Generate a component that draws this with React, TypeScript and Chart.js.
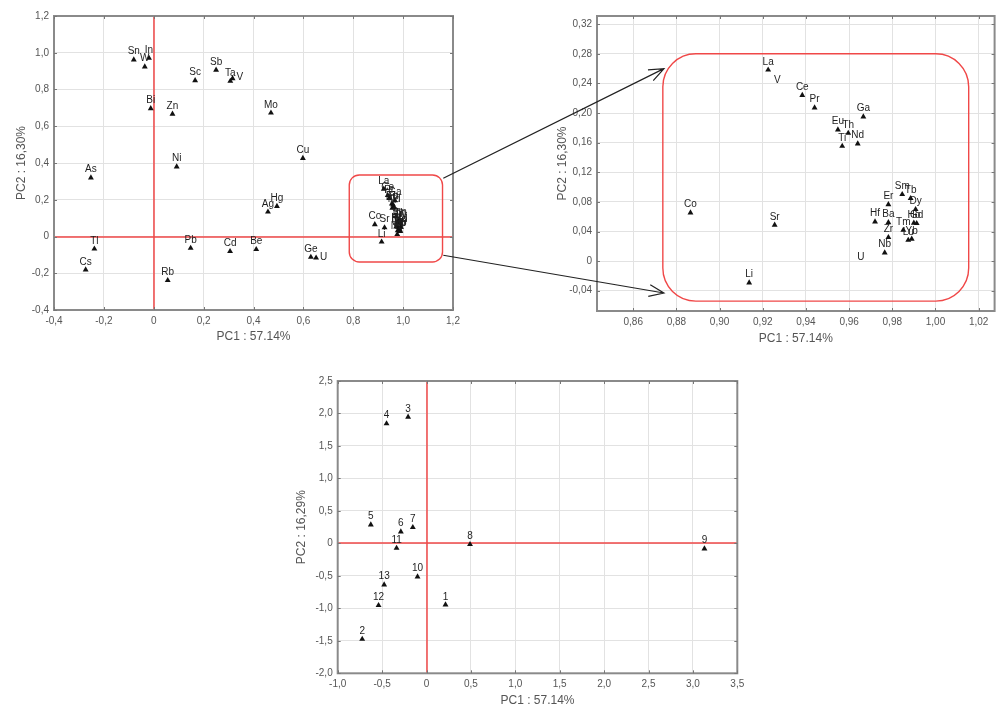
import React, { useEffect, useRef } from "react";
import { Chart, registerables } from "chart.js";
Chart.register(...registerables);

const FONT = "'Liberation Sans', Arial, sans-serif";

// ---------- Top-left: variable loadings (full view) ----------
const leftLabels = ["Sn", "W", "In", "Bi", "Zn", "Sc", "Sb", "Ta", "V", "Mo", "Ni", "As", "Cu", "Hg", "Ag", "Tl", "Cs", "Pb", "Cd", "Be", "Rb", "Ge", "U"];
const leftX = [-0.080, -0.036, -0.019, -0.012, 0.075, 0.166, 0.250, 0.307, 0.316, 0.470, 0.092, -0.252, 0.598, 0.494, 0.458, -0.238, -0.273, 0.148, 0.306, 0.411, 0.056, 0.630, 0.651];
const leftY = [0.962, 0.924, 0.971, 0.697, 0.667, 0.849, 0.906, 0.846, 0.860, 0.673, 0.380, 0.320, 0.426, 0.165, 0.134, -0.067, -0.181, -0.063, -0.081, -0.070, -0.239, -0.112, -0.116];
// labels drawn to the right of their marker instead of above it
const leftRightLabels = ["V", "U"];

// ---------- Top-right: zoomed cluster ----------
const zoomLabels = ["La", "Ce", "Pr", "Ga", "Eu", "Th", "Ti", "Nd", "Co", "Sr", "Li", "Sm", "Tb", "Dy", "Er", "Hf", "Ba", "Zr", "Nb", "Tm", "Yb", "Lu", "Gd", "Ho"];
const zoomX = [0.9225, 0.9383, 0.9440, 0.9666, 0.9548, 0.9596, 0.9568, 0.9640, 0.8865, 0.9255, 0.9137, 0.9846, 0.9885, 0.9908, 0.9782, 0.9720, 0.9782, 0.9782, 0.9765, 0.9851, 0.9890, 0.9874, 0.9913, 0.9900];
const zoomY = [0.2584, 0.2242, 0.2073, 0.1951, 0.1776, 0.1730, 0.1555, 0.1586, 0.0654, 0.0488, -0.0292, 0.0903, 0.0849, 0.0700, 0.0765, 0.0532, 0.0522, 0.0322, 0.0114, 0.0420, 0.0299, 0.0285, 0.0511, 0.0515];
// labels shown without a marker in the zoomed view
const zoomTextLabels = ["V", "U"];
const zoomTextX = [0.9268, 0.9654];
const zoomTextY = [0.2336, -0.0057];

// ---------- Bottom: object scores ----------
const objLabels = ["1", "2", "3", "4", "5", "6", "7", "8", "9", "10", "11", "12", "13"];
const objX = [0.214, -0.724, -0.207, -0.450, -0.627, -0.289, -0.154, 0.490, 3.130, -0.101, -0.337, -0.540, -0.477];
const objY = [-0.945, -1.474, 1.946, 1.844, 0.288, 0.180, 0.246, -0.015, -0.082, -0.513, -0.072, -0.955, -0.636];

// ---------- Ticks ----------
const leftTicks = [-0.4, -0.2, 0, 0.2, 0.4, 0.6, 0.8, 1.0, 1.2];
const leftTickLabels = ["-0,4", "-0,2", "0", "0,2", "0,4", "0,6", "0,8", "1,0", "1,2"];
const zoomXTicks = [0.86, 0.88, 0.90, 0.92, 0.94, 0.96, 0.98, 1.00, 1.02];
const zoomXTickLabels = ["0,86", "0,88", "0,90", "0,92", "0,94", "0,96", "0,98", "1,00", "1,02"];
const zoomYTicks = [-0.04, 0, 0.04, 0.08, 0.12, 0.16, 0.20, 0.24, 0.28, 0.32];
const zoomYTickLabels = ["-0,04", "0", "0,04", "0,08", "0,12", "0,16", "0,20", "0,24", "0,28", "0,32"];
const objXTicks = [-1, -0.5, 0, 0.5, 1, 1.5, 2, 2.5, 3, 3.5];
const objXTickLabels = ["-1,0", "-0,5", "0", "0,5", "1,0", "1,5", "2,0", "2,5", "3,0", "3,5"];
const objYTicks = [-2, -1.5, -1, -0.5, 0, 0.5, 1, 1.5, 2, 2.5];
const objYTickLabels = ["-2,0", "-1,5", "-1,0", "-0,5", "0", "0,5", "1,0", "1,5", "2,0", "2,5"];

// ---------- Annotation geometry (data units) ----------
const leftBox = { x1: 0.784, x2: 1.158, y1: 0.335, y2: -0.139, r: 10 };
const zoomBox = { x1: 0.8737, x2: 1.0154, y1: 0.2802, y2: -0.054, r: 33 };
const arrowFrom = [{ x: 1.161, y: 0.317 }, { x: 1.161, y: -0.102 }];
const arrowTo = [{ x: 0.8742, y: 0.2601 }, { x: 0.8742, y: -0.0431 }];

const RED = "#f04848";

function axis(pos: "left" | "bottom", min: number, max: number, ticks: number[], labels: string[], title: string, size: number, titlePad: number, tickPad: number) {
  return {
    type: "linear",
    position: pos,
    min,
    max,
    afterBuildTicks: (s: any) => {
      s.ticks = ticks.map((v) => ({ value: v }));
    },
    afterFit: (s: any) => {
      if (pos === "left") s.width = size;
      else s.height = size;
      s.paddingLeft = 0;
      s.paddingRight = 0;
      s.paddingTop = 0;
      s.paddingBottom = 0;
    },
    ticks: {
      autoSkip: false,
      maxRotation: 0,
      padding: tickPad,
      color: "#555",
      font: { family: FONT, size: 10 },
      callback: (v: number) => {
        const i = ticks.findIndex((t) => Math.abs(t - v) < 1e-9);
        return i >= 0 ? labels[i] : "";
      },
    },
    grid: { color: "#e2e2e2", lineWidth: 1, drawTicks: false },
    border: { display: false },
    title: {
      display: true,
      text: title,
      color: "#555",
      font: { family: FONT, size: 12, lineHeight: 1 },
      padding: pos === "left" ? { top: titlePad, bottom: 0 } : { top: 0, bottom: titlePad },
    },
  };
}

const decor = {
  id: "decor",
  beforeDatasetsDraw(chart: any) {
    const o = chart.options.plugins.decor || {};
    const { ctx, chartArea: a, scales } = chart;
    const sx = scales.x;
    const sy = scales.y;
    ctx.save();
    ctx.beginPath();
    ctx.rect(a.left, a.top, a.right - a.left, a.bottom - a.top);
    ctx.clip();
    if (o.zero) {
      ctx.strokeStyle = RED;
      ctx.lineWidth = 1.5;
      const x0 = Math.round(sx.getPixelForValue(0));
      const y0 = Math.round(sy.getPixelForValue(0));
      ctx.beginPath();
      ctx.moveTo(x0, a.top);
      ctx.lineTo(x0, a.bottom);
      ctx.moveTo(a.left, y0);
      ctx.lineTo(a.right, y0);
      ctx.stroke();
    }
    if (o.box) {
      const b = o.box;
      const x1 = sx.getPixelForValue(b.x1);
      const x2 = sx.getPixelForValue(b.x2);
      const y1 = sy.getPixelForValue(b.y1);
      const y2 = sy.getPixelForValue(b.y2);
      ctx.strokeStyle = RED;
      ctx.lineWidth = 1.4;
      ctx.beginPath();
      ctx.roundRect(x1, y1, x2 - x1, y2 - y1, b.r);
      ctx.stroke();
    }
    ctx.restore();
    // frame
    ctx.save();
    ctx.strokeStyle = "#8a8a8a";
    ctx.lineWidth = 2;
    ctx.strokeRect(a.left, a.top, a.right - a.left, a.bottom - a.top);
    // small inward ticks at major positions
    ctx.lineWidth = 1;
    ctx.strokeStyle = "#777";
    ctx.beginPath();
    sx.ticks.forEach((t: any) => {
      const px = Math.round(sx.getPixelForValue(t.value)) + 0.5;
      ctx.moveTo(px, a.bottom);
      ctx.lineTo(px, a.bottom - 3);
      ctx.moveTo(px, a.top);
      ctx.lineTo(px, a.top + 3);
    });
    sy.ticks.forEach((t: any) => {
      const py = Math.round(sy.getPixelForValue(t.value)) + 0.5;
      ctx.moveTo(a.left, py);
      ctx.lineTo(a.left + 3, py);
      ctx.moveTo(a.right, py);
      ctx.lineTo(a.right - 3, py);
    });
    ctx.stroke();
    ctx.restore();
  },
  afterDatasetsDraw(chart: any) {
    const { ctx } = chart;
    ctx.save();
    ctx.font = `10px ${FONT}`;
    ctx.fillStyle = "#1e1e1e";
    chart.data.datasets.forEach((ds: any, i: number) => {
      if (!ds.pointLabels) return;
      const right: string[] = ds.rightLabels || [];
      const meta = chart.getDatasetMeta(i);
      meta.data.forEach((el: any, j: number) => {
        const txt = ds.pointLabels[j];
        if (right.includes(txt)) {
          ctx.textAlign = "left";
          ctx.textBaseline = "middle";
          ctx.fillText(txt, el.x + 4, el.y - 1);
        } else {
          ctx.textAlign = "center";
          ctx.textBaseline = "bottom";
          ctx.fillText(txt, el.x, el.y - 3);
        }
      });
    });
    ctx.restore();
  },
};

function arrowPlugin(src: Chart, dx: number, dy: number) {
  return {
    id: "arrows",
    afterDraw(chart: any) {
      const ctx = chart.ctx;
      ctx.save();
      ctx.strokeStyle = "#222";
      ctx.lineWidth = 1.2;
      arrowFrom.forEach((f, k) => {
        const t = arrowTo[k];
        const x1 = (src as any).scales.x.getPixelForValue(f.x) + dx;
        const y1 = (src as any).scales.y.getPixelForValue(f.y) + dy;
        const x2 = chart.scales.x.getPixelForValue(t.x);
        const y2 = chart.scales.y.getPixelForValue(t.y);
        const ang = Math.atan2(y2 - y1, x2 - x1);
        const L = 16;
        const spread = 0.38;
        ctx.beginPath();
        ctx.moveTo(x1, y1);
        ctx.lineTo(x2, y2);
        ctx.moveTo(x2 - L * Math.cos(ang - spread), y2 - L * Math.sin(ang - spread));
        ctx.lineTo(x2, y2);
        ctx.lineTo(x2 - L * Math.cos(ang + spread), y2 - L * Math.sin(ang + spread));
        ctx.stroke();
      });
      ctx.restore();
    },
  };
}

const pts = (xs: number[], ys: number[]) => xs.map((x, i) => ({ x, y: ys[i] }));

const markerDs = (data: any[], labels: string[], radius = 3.4, rightLabels: string[] = []) => ({
  data,
  pointLabels: labels,
  rightLabels,
  pointStyle: "triangle",
  pointRadius: radius,
  pointHoverRadius: radius,
  backgroundColor: "#111",
  borderColor: "#111",
  borderWidth: 0,
  showLine: false,
});

const basePlugins = { legend: { display: false }, tooltip: { enabled: false } };

export default function App() {
  const refA = useRef<HTMLCanvasElement>(null);
  const refB = useRef<HTMLCanvasElement>(null);
  const refC = useRef<HTMLCanvasElement>(null);

  useEffect(() => {
    const a = new Chart(refA.current as HTMLCanvasElement, {
      type: "scatter",
      data: {
        datasets: [
          markerDs(pts(leftX, leftY), leftLabels, 3.4, leftRightLabels),
          markerDs(pts(zoomX, zoomY), zoomLabels),
        ] as any,
      },
      options: {
        responsive: false,
        animation: false,
        layout: { padding: { left: 0, right: 7, top: 16, bottom: 0 } },
        scales: {
          x: axis("bottom", -0.4, 1.2, leftTicks, leftTickLabels, "PC1 : 57.14%", 40, 7, 5),
          y: axis("left", -0.4, 1.2, leftTicks, leftTickLabels, "PC2 : 16,30%", 54, 16, 5),
        } as any,
        plugins: { ...basePlugins, decor: { zero: true, box: leftBox } } as any,
      },
      plugins: [decor],
    });

    const b = new Chart(refB.current as HTMLCanvasElement, {
      type: "scatter",
      data: {
        datasets: [
          markerDs(pts(zoomX, zoomY), zoomLabels),
          markerDs(pts(zoomTextX, zoomTextY), zoomTextLabels, 0),
        ] as any,
      },
      options: {
        responsive: false,
        animation: false,
        layout: { padding: { left: 0, right: 2, top: 16, bottom: 0 } },
        scales: {
          x: axis("bottom", 0.8432, 1.0274, zoomXTicks, zoomXTickLabels, "PC1 : 57.14%", 39, 5, 5),
          y: axis("left", -0.0674, 0.3312, zoomYTicks, zoomYTickLabels, "PC2 : 16,30%", 157, 117, 5),
        } as any,
        plugins: { ...basePlugins, decor: { zero: false, box: zoomBox } } as any,
      },
      plugins: [decor, arrowPlugin(a, -440, 0)],
    });

    const c = new Chart(refC.current as HTMLCanvasElement, {
      type: "scatter",
      data: {
        datasets: [markerDs(pts(objX, objY), objLabels)] as any,
      },
      options: {
        responsive: false,
        animation: false,
        layout: { padding: { left: 0, right: 22.7, top: 21, bottom: 0 } },
        scales: {
          x: axis("bottom", -1, 3.5, objXTicks, objXTickLabels, "PC1 : 57.14%", 33.7, 0, 5),
          y: axis("left", -2, 2.5, objYTicks, objYTickLabels, "PC2 : 16,29%", 57.7, 16, 5),
        } as any,
        plugins: { ...basePlugins, decor: { zero: true } } as any,
      },
      plugins: [decor],
    });

    return () => {
      a.destroy();
      b.destroy();
      c.destroy();
    };
  }, []);

  return (
    <div style={{ position: "absolute", left: 0, top: 0, width: 998, height: 707, background: "#fff", overflow: "hidden" }}>
      <canvas ref={refA} width={460} height={350} style={{ position: "absolute", left: 0, top: 0 }} />
      <canvas ref={refB} width={558} height={350} style={{ position: "absolute", left: 440, top: 0 }} />
      <canvas ref={refC} width={480} height={347} style={{ position: "absolute", left: 280, top: 360 }} />
    </div>
  );
}
